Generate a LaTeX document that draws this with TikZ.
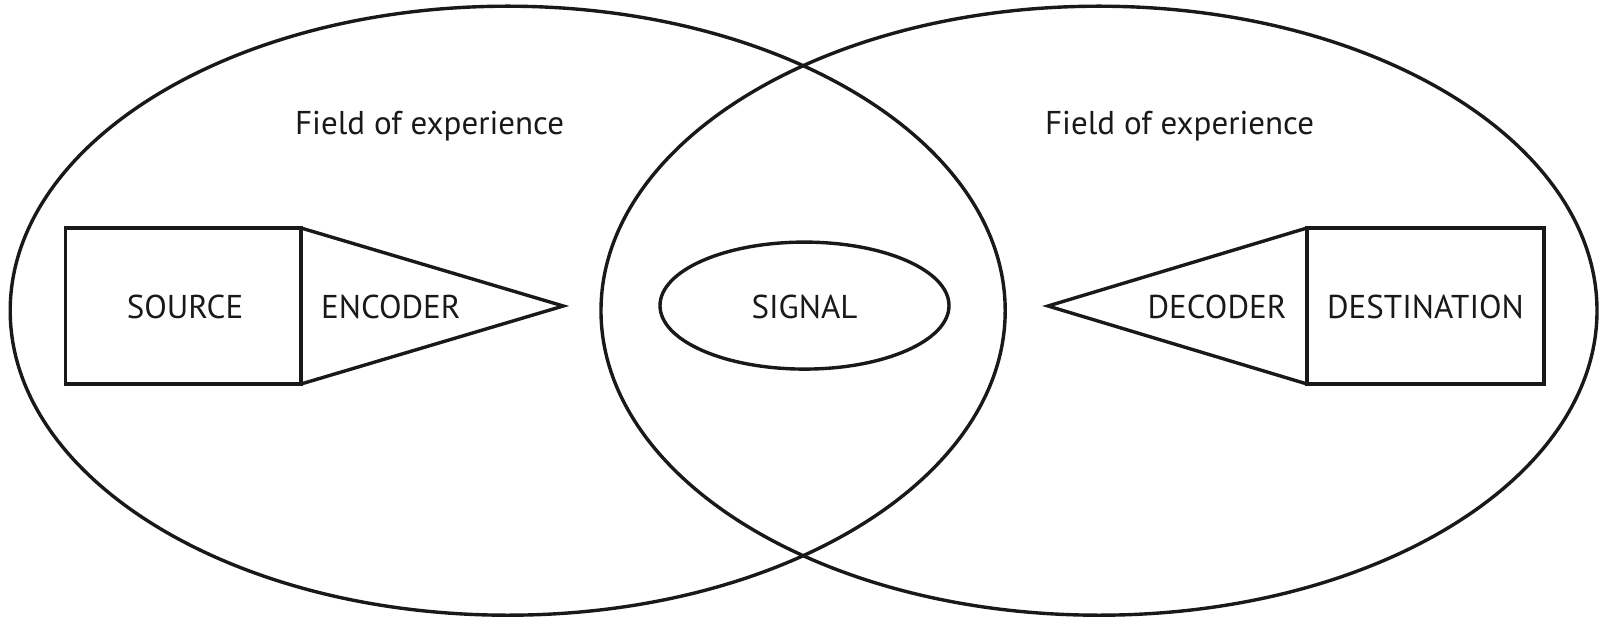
\documentclass[tikz,border=0pt]{standalone}
\usepackage{fontspec}
\setmainfont{PT Sans}
\usetikzlibrary{shapes.geometric}
\tikzset{
  ln/.style={line width=3.4pt, draw=black!90},
  field/.style={ln, ellipse, inner sep=0pt},
  lbl/.style={inner sep=0pt, font=\fontsize{33}{38}\selectfont, text=black!90},
}
\begin{document}
\begin{tikzpicture}[x=1pt,y=-1pt]
\useasboundingbox (0,0) rectangle (1600,617);
\node[field, minimum width=995pt, minimum height=609pt] (left) at (507.7,310.7) {};
\node[field, minimum width=996pt, minimum height=609pt] (right) at (1099,310.7) {};
\node[field, minimum width=289pt, minimum height=127pt] (signal) at (804.5,305.6) {};
\node[lbl] at ([yshift=-1pt]signal.center) {SIGNAL};
\node[lbl] (fl) at (429.6,126.5) {Field of experience};
\node[lbl] (fr) at (1179.6,126.5) {Field of experience};
% source / encoder
\coordinate (s1) at (65.3,228);
\coordinate (s2) at (301,228);
\coordinate (s3) at (301,384);
\coordinate (s4) at (65.3,384);
\coordinate (etip) at (563.3,306);
\draw[ln, line join=miter] (s2) -- (s1) -- (s4) -- (s3) -- cycle;
\draw[ln, line join=miter] (s2) -- (etip) -- (s3);
\node[lbl] (source) at (185,307) {SOURCE};
\node[lbl] (encoder) at (390.8,307) {ENCODER};
% decoder / destination
\coordinate (d1) at (1307,228);
\coordinate (d2) at (1544,228);
\coordinate (d3) at (1544,384);
\coordinate (d4) at (1307,384);
\coordinate (dtip) at (1048,306);
\draw[ln, line join=miter] (d1) -- (d2) -- (d3) -- (d4) -- cycle;
\draw[ln, line join=miter] (d1) -- (dtip) -- (d4);
\node[lbl] (decoder) at (1217,307) {DECODER};
\node[lbl] (destination) at (1425.5,307) {DESTINATION};
\end{tikzpicture}
\end{document}
